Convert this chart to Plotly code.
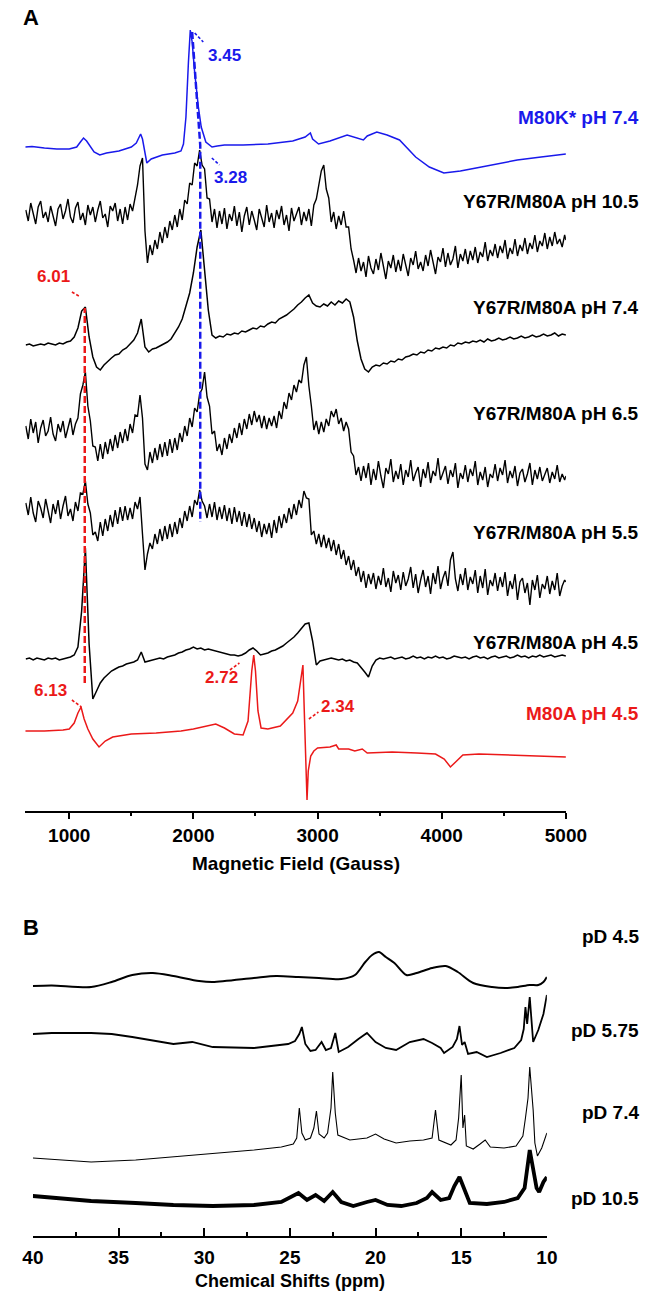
import plotly.graph_objects as go

W, H = 664, 1295
FONT = "Liberation Sans, Arial, sans-serif"
BLUE = "rgb(25,25,235)"
RED = "rgb(235,25,25)"

# ---------------- Panel A : EPR ----------------
# field sweep grids (Gauss)
FIELD_GRID = list(range(650, 5000, 30)) + [5000]        # 146 points
FIELD_FINE = list(range(650, 5000, 20)) + [5000]        # 219 points (noisy spectra)

EPR_Y67R_PH105 = [
    3, -8, 10, -2, -11, 6, 12, -5, 1, -9,
    7, -3, -13, 4, 9, -6, 2, 14, -4, -10,
    5, 11, -7, 0, -12, 8, -2, 6, -9, 3,
    12, -5, -1, -14, 7, 2, 10, -8, 4, -11,
    6, -7, 9, 2, 15, 28, 47, 55, -18, -50,
    -32, -42, -27, -36, -19, -30, -14, -25, -8, -17,
    -2, -14, 4, -7, 13, 9, 30, 28, 50, 47,
    63, 48, 44, 15, 14, -9, 4, -15, 2, -11,
    5, -16, -1, -8, 7, -13, 1, -19, -3, 6,
    -12, 2, -7, -17, 4, -4, -14, 8, -9, 0,
    -15, 3, -6, 7, -12, -2, -18, 5, -8, -1,
    6, -12, 1, -8, 4, -13, 8, 14, 30, 42,
    48, 24, 15, -9, 1, -16, -3, -12, 2, -14,
    -14, -36, -47, -60, -45, -58, -49, -64, -43, -55,
    -61, -46, -57, -40, -53, -66, -48, -55, -42, -59,
    -47, -58, -41, -54, -63, -45, -52, -38, -56, -49,
    -58, -42, -53, -37, -50, -61, -44, -49, -35, -54,
    -40, -52, -46, -33, -55, -41, -48, -36, -51, -38,
    -47, -34, -50, -39, -44, -29, -48, -37, -43, -31,
    -45, -33, -40, -27, -46, -35, -41, -26, -43, -32,
    -38, -25, -41, -30, -36, -22, -39, -28, -33, -20,
    -36, -24, -33, -19, -31, -26, -34, -22, -27,
]
EPR_Y67R_PH65 = [
    4, -9, 11, -3, 8, -13, 2, 10, -6, -1,
    13, -4, -11, 6, -2, 9, -8, 3, 12, -5,
    6, 12, 36, 45, 58, 24, 9, -16, -17, -31,
    -14, -29, -12, -24, -9, -21, -5, -18, -2, -13,
    1, -11, 6, -3, 15, 14, 35, 12, -34, -40,
    -22, -33, -18, -30, -14, -27, -12, -26, -9, -23,
    -8, -20, -3, -12, 4, -6, 12, 3, 22, 18,
    36, 41, 58, 33, 24, -4, -1, -21, -14, -25,
    -8, -19, -4, -13, 2, -8, 7, -5, 11, 1,
    16, 5, 19, 8, 15, 2, 14, 1, 12, 4,
    14, 2, 19, 11, 28, 21, 37, 30, 45, 38,
    50, 47, 65, 73, 44, 24, 0, 9, -4, 8,
    -2, 11, 4, 19, 13, 21, 6, 12, -1, 8,
    1, -22, -26, -45, -37, -51, -36, -48, -33, -55,
    -39, -50, -31, -46, -58, -38, -44, -29, -52, -41,
    -49, -34, -55, -40, -47, -30, -51, -43, -37, -57,
    -39, -48, -32, -53, -41, -46, -28, -50, -42, -36,
    -54, -40, -47, -33, -58, -43, -49, -35, -52, -39,
    -46, -31, -55, -42, -50, -37, -57, -44, -48, -34,
    -51, -38, -45, -30, -53, -41, -48, -36, -56, -43,
    -39, -52, -44, -33, -55, -40, -49, -37, -51, -45,
    -38, -53, -42, -49, -35, -52, -44, -50, -46,
]
EPR_Y67R_PH55 = [
    7, -5, 13, -3, -12, 9, 2, -8, 11, -1,
    -13, 6, -4, 10, -9, 4, 14, -6, 1, -11,
    8, -1, 17, 16, 29, 6, -3, -25, -22, -31,
    -12, -26, -9, -21, -5, -17, 0, -14, 3, -11,
    4, -10, 2, -9, 8, 1, 13, -24, -60, -44,
    -33, -39, -24, -34, -19, -31, -16, -29, -14, -27,
    -12, -24, -8, -18, -1, -11, 4, -7, 10, 5,
    20, 9, 4, -8, 6, -7, 8, -10, 3, -9,
    5, -11, 2, -14, 3, -12, -1, -16, -2, -17,
    -4, -19, -8, -22, -11, -27, -14, -24, -13, -28,
    -10, -23, -6, -18, -4, -13, 2, -9, 6, -5,
    10, 2, 19, 12, 11, -25, -21, -34, -24, -37,
    -25, -38, -28, -41, -30, -45, -34, -49, -40, -55,
    -46, -60, -50, -66, -57, -72, -61, -78, -64, -74,
    -63, -79, -66, -75, -58, -77, -68, -82, -61, -73,
    -65, -80, -62, -76, -69, -57, -78, -64, -83, -70,
    -60, -77, -66, -84, -63, -74, -56, -79, -68, -61,
    -76, -50, -42, -69, -81, -64, -75, -58, -80, -67,
    -74, -60, -83, -66, -78, -59, -85, -70, -76, -63,
    -81, -67, -77, -62, -86, -71, -79, -64, -90, -72,
    -68, -83, -73, -95, -70, -80, -65, -88, -74, -79,
    -66, -84, -71, -80, -63, -86, -76, -70, -72,
]
EPR_Y67R_PH74 = [
    0, 1, -1, 0, 1, 0, 2, 1, 0, 2,
    1, 3, 4, 8, 17, 34, 38, 8, -12, -22,
    -25, -20, -16, -13, -10, -9, -5, -3, 1, 5,
    12, 26, -2, -7, -4, -3, -1, 1, 3, 6,
    12, 18, 26, 38, 52, 72, 98, 115, 78, 35,
    10, 7, 9, 8, 11, 10, 12, 11, 14, 13,
    15, 17, 16, 19, 18, 21, 23, 22, 26, 28,
    30, 33, 36, 40, 43, 47, 50, 42, 39, 38,
    41, 39, 43, 40, 44, 42, 46, 43, 28, 4,
    -14, -24, -27, -22, -20, -21, -18, -19, -16, -17,
    -14, -15, -12, -11, -9, -10, -7, -8, -5, -6,
    -3, -4, -2, -3, 0, -1, 2, 1, 3, 2,
    4, 3, 5, 3, 6, 4, 5, 7, 5, 6,
    8, 6, 7, 9, 7, 8, 10, 8, 9, 11,
    9, 10, 12, 9, 11, 10,
]
EPR_Y67R_PH45 = [
    0, 1, -1, 1, 0, -1, 1, 0, 1, -1,
    0, 1, 2, 4, 12, 48, 111, 15, -40, -32,
    -24, -19, -15, -12, -10, -8, -7, -5, -4, -3,
    -1, 7, -3, -2, -1, 0, 1, 0, 2, 3,
    4, 6, 7, 9, 10, 12, 10, 11, 9, 10,
    9, 8, 7, 6, 5, 4, 4, 3, 4, 6,
    9, 11, 8, 4, 5, 6, 8, 9, 11, 13,
    16, 19, 22, 26, 31, 35, 36, 18, -6, -2,
    -1, 0, 1, 0, -1, 0, -2, -1, -3, -4,
    -8, -13, -18, -7, -1, 1, 0, 1, 2, 0,
    1, 2, 0, 1, 3, 1, 2, 0, 2, 1,
    3, 1, 2, 0, 1, 3, 2, 1, 2, 0,
    2, 3, 1, 2, 0, 2, 3, 1, 2, 3,
    1, 2, 4, 2, 3, 1, 3, 2, 4, 2,
    3, 4, 2, 3, 4, 3,
]

M80K_FIELD = [646, 700, 800, 900, 1000, 1060, 1090, 1115, 1140, 1170,
              1200, 1246, 1300, 1400, 1500, 1540, 1575, 1590, 1610, 1625,
              1660, 1750, 1850, 1900, 1920, 1940, 1960, 1975, 1990, 2010,
              2040, 2063, 2100, 2150, 2192, 2250, 2400, 2600, 2800, 2900,
              2942, 2960, 3008, 3100, 3238, 3300, 3369, 3400, 3477, 3560,
              3660, 3790, 3900, 4017, 4150, 4277, 4450, 4608, 4800, 5000]
M80K_SIGNAL = [0, 0.5, -1, -2, -2, 0, 5, 9, 6, 0,
               -5, -8, -6, -4, 0, 4, 13, 8, -8, -16,
               -12, -8, -6, -4, 3, 30, 85, 117, 105, 75,
               40, 20, 5, 0, 1, 2, 2, 3, 6, 10,
               14, 8, 3, 6, 12, 10, 7, 11, 15, 12,
               7, -10, -20, -26, -24, -21, -17, -13, -10, -7]

M80A_FIELD = [646, 800, 950, 1000, 1040, 1070, 1095, 1120, 1150, 1190,
              1240, 1290, 1350, 1500, 1700, 1900, 2000, 2100, 2180, 2250,
              2330, 2400, 2440, 2470, 2486, 2500, 2520, 2545, 2600, 2700,
              2800, 2840, 2870, 2882, 2893, 2905, 2915, 2925, 2945, 2970,
              3000, 3100, 3150, 3170, 3250, 3300, 3360, 3400, 3600, 3800,
              3950, 4020, 4070, 4120, 4170, 4300, 4600, 4800, 5000]
M80A_SIGNAL = [0, 0, 1, 2, 8, 18, 24, 12, 2, -8,
               -16, -10, -6, -3, -2, 0, 2, 5, 7, 3,
               -3, -4, 10, 60, 76, 60, 20, 3, 2, 5,
               18, 30, 55, 66, 20, -40, -69, -40, -25, -20,
               -17, -16, -14, -18, -18, -20, -18, -22, -21, -22,
               -23, -28, -36, -30, -24, -23, -24, -25, -26]

EPR_LABELS = ["M80K* pH 7.4", "Y67R/M80A pH 10.5", "Y67R/M80A pH 7.4",
              "Y67R/M80A pH 6.5", "Y67R/M80A pH 5.5", "Y67R/M80A pH 4.5",
              "M80A pH 4.5"]
G_LABELS = ["3.45", "3.28", "6.01", "6.13", "2.72", "2.34"]

# ---------------- Panel B : 1H NMR ----------------
NMR_PD45_PPM = [40, 38.9, 36.6, 35.4, 34.2, 33, 31.8, 30.3, 29.5, 27.1,
                25.8, 24.5, 23.3, 22.0, 21.2, 20.6, 20.2, 19.8, 19.4, 18.9,
                18.2, 17.6, 16.7, 15.9, 15.2, 14.3, 13.2, 12.4, 11.7, 11.0,
                10.5, 10.2, 10.0]
NMR_PD45_SIG = [0, 0.5, -1, 4, 11, 13, 10, 5, 4, 8,
                10, 9, 8, 7, 11, 24, 31, 34, 29, 23,
                11, 13, 18, 20, 14, 3, -1, -2, -1, 1,
                1, 4, 9]
NMR_PD575_PPM = [40, 38.9, 36.6, 35.4, 34.2, 31.8, 30.7, 29.5, 27.1, 25.1,
                 24.7, 24.45, 24.3, 24.1, 23.8, 23.5, 23.15, 22.9, 22.6, 22.35,
                 22.15, 21.6, 21.0, 20.5, 20.0, 19.4, 18.8, 18.0, 17.2, 16.7,
                 16.2, 16.0, 15.5, 15.25, 15.1, 14.95, 14.8, 14.6, 14.1, 13.5,
                 12.7, 11.9, 11.5, 11.35, 11.25, 11.15, 11.0, 10.8, 10.5, 10.2,
                 10.0]
NMR_PD575_SIG = [0, 1, 1, 0, -3, -10, -8, -13, -14, -10,
                 -7, 0, 7, -10, -17, -16, -8, -16, -14, 1,
                 -18, -13, -5, 1, -8, -14, -16, -8, -5, -9,
                 -14, -19, -13, -5, 8, -11, -8, -20, -18, -23,
                 -19, -14, -6, 5, 27, 10, 37, -8, 4, 20,
                 39]
NMR_PD74_PPM = [40, 38.5, 36.6, 34, 31.8, 29.5, 27.1, 25.5, 24.8, 24.6,
                24.45, 24.3, 24.1, 23.8, 23.6, 23.45, 23.3, 23.0, 22.8, 22.6,
                22.5, 22.35, 22.2, 21.5, 20.5, 20.0, 19.5, 18.8, 18.0, 17.2,
                16.7, 16.5, 16.3, 15.6, 15.3, 15.15, 15.0, 14.9, 14.8, 14.7,
                14.3, 13.9, 13.6, 13.3, 12.5, 11.8, 11.4, 11.25, 11.1, 11.0,
                10.9, 10.8, 10.7, 10.55, 10.3, 10.0]
NMR_PD74_SIG = [0, -2, -4, -2, 1, 4, 8, 11, 14, 20,
                50, 25, 18, 20, 30, 47, 24, 20, 25, 50,
                86, 45, 23, 18, 20, 24, 19, 15, 17, 18,
                20, 48, 18, 13, 18, 40, 83, 30, 43, 12,
                9, 14, 18, 11, 10, 12, 22, 40, 60, 91,
                70, 48, 15, 2, 10, 25]
NMR_PD105_PPM = [40, 38.5, 36.6, 34, 31.8, 29.5, 27.1, 25.5, 24.9, 24.5,
                 24.0, 23.5, 23.0, 22.5, 22.0, 21.3, 20.5, 20.0, 19.3, 18.5,
                 17.6, 17.0, 16.7, 16.2, 15.7, 15.4, 15.1, 14.8, 14.5, 13.5,
                 12.5, 11.7, 11.3, 11.0, 10.8, 10.6, 10.45, 10.2, 10.0]
NMR_PD105_SIG = [0, -2, -5, -7, -9, -10, -9, -6, 0, 3,
                 -4, 1, -5, 4, -6, -10, -6, -4, -9, -10,
                 -7, -2, 4, -4, -2, 10, 19, 5, -7, -8,
                 -6, -2, 8, 46, 26, 8, 4, 14, 19]
NMR_LABELS = ["pD 4.5", "pD 5.75", "pD 7.4", "pD 10.5"]

EPR_X_TICKS = [1000, 2000, 3000, 4000, 5000]
NMR_X_TICKS = [40, 35, 30, 25, 20, 15, 10]

for arr in (EPR_Y67R_PH105, EPR_Y67R_PH65, EPR_Y67R_PH55):
    assert len(arr) == len(FIELD_FINE), len(arr)
for arr in (EPR_Y67R_PH74, EPR_Y67R_PH45):
    assert len(arr) == len(FIELD_GRID), len(arr)


# --------------- layout helpers (pixel -> paper) ---------------
def pxx(px):
    return px / W


def pxy(py):
    return 1 - py / H


A_AXIS_PX = 811
B_TOP_PX, B_AXIS_PX = 880, 1236

fig = go.Figure()

epr_traces = [
    (M80K_FIELD, M80K_SIGNAL, 664, BLUE, 1.5),
    (FIELD_FINE, EPR_Y67R_PH105, 598, "black", 1.4),
    (FIELD_GRID, EPR_Y67R_PH74, 466, "black", 1.5),
    (FIELD_FINE, EPR_Y67R_PH65, 381, "black", 1.4),
    (FIELD_FINE, EPR_Y67R_PH55, 301, "black", 1.4),
    (FIELD_GRID, EPR_Y67R_PH45, 152, "black", 1.5),
    (M80A_FIELD, M80A_SIGNAL, 80, RED, 1.5),
]
for (xs, ys, off, col, lw), name in zip(epr_traces, EPR_LABELS):
    fig.add_trace(go.Scatter(x=xs, y=[v + off for v in ys], mode="lines",
                             line=dict(color=col, width=lw), name=name,
                             xaxis="x", yaxis="y", hoverinfo="skip"))

nmr_traces = [
    (NMR_PD45_PPM, NMR_PD45_SIG, 250, 2.0, "spline"),
    (NMR_PD575_PPM, NMR_PD575_SIG, 202, 1.8, "linear"),
    (NMR_PD74_PPM, NMR_PD74_SIG, 78, 1.1, "linear"),
    (NMR_PD105_PPM, NMR_PD105_SIG, 40, 3.8, "linear"),
]
for (xs, ys, off, lw, shape), name in zip(nmr_traces, NMR_LABELS):
    fig.add_trace(go.Scatter(x=xs, y=[v + off for v in ys], mode="lines",
                             line=dict(color="black", width=lw, shape=shape, smoothing=0.8),
                             name=name, xaxis="x2", yaxis="y2", hoverinfo="skip"))

axis_common = dict(showline=True, linewidth=2, linecolor="black", showgrid=False,
                   zeroline=False, tickwidth=2, tickcolor="black",
                   tickfont=dict(family=FONT, size=19, color="black", weight="bold"))

fig.update_layout(
    width=W, height=H, margin=dict(l=0, r=0, t=0, b=0),
    paper_bgcolor="white", plot_bgcolor="white", showlegend=False,
    xaxis=dict(domain=[pxx(15), pxx(583)], range=[646, 5000], anchor="y",
               ticks="outside", ticklen=6, tickvals=EPR_X_TICKS,
               minor=dict(tickvals=[1500, 2500, 3500, 4500], ticks="outside",
                          ticklen=3, tickwidth=2, tickcolor="black"),
               **axis_common),
    yaxis=dict(domain=[pxy(A_AXIS_PX), 1], range=[0, A_AXIS_PX], visible=False),
    xaxis2=dict(domain=[pxx(23), pxx(563)], range=[40, 10], anchor="y2",
                ticks="inside", ticklen=8, tickvals=NMR_X_TICKS,
                ticklabelstandoff=3,
                minor=dict(tickvals=[37.5, 32.5, 27.5, 22.5, 17.5, 12.5],
                           ticks="inside", ticklen=4, tickwidth=2, tickcolor="black"),
                **axis_common),
    yaxis2=dict(domain=[pxy(B_AXIS_PX), pxy(B_TOP_PX)], range=[0, B_AXIS_PX - B_TOP_PX],
                visible=False),
)

ann = []


def label(text, x, y, size=19, color="black", xanchor="center"):
    ann.append(dict(text=text, x=pxx(x), y=pxy(y), xref="paper", yref="paper",
                    showarrow=False, xanchor=xanchor, yanchor="middle",
                    font=dict(family=FONT, size=size, color=color, weight="bold")))


label("A", 21, 17, size=22)
label("B", 21, 927, size=22)

epr_label_y = [118, 201, 307, 413, 532, 643, 713]
epr_label_c = [BLUE, "black", "black", "black", "black", "black", RED]
for t, y, c in zip(EPR_LABELS, epr_label_y, epr_label_c):
    label(t, 662, y, color=c, xanchor="right")

nmr_label_y = [936, 1030, 1112, 1198]
for t, y in zip(NMR_LABELS, nmr_label_y):
    label(t, 662, y, xanchor="right")

g_pos = [(224, 55, BLUE), (231, 177, BLUE), (45, 277, RED), (41, 690, RED),
         (221, 677, RED), (344, 706, RED)]
for t, (x, y, c) in zip(G_LABELS, g_pos):
    label(t, x, y, size=17, color=c)

label("Magnetic Field (Gauss)", 299, 863, size=19)
label("Chemical Shifts (ppm)", 293, 1281, size=18)

shapes = []
leaders = [((193, 33), (202, 42), BLUE), ((211, 158), (219, 165), BLUE),
           ((64, 292), (73, 297), RED), ((64, 700), (74, 707), RED),
           ((230, 670), (240, 663), RED), ((313, 719), (323, 712), RED)]
for (x0, y0), (x1, y1), c in leaders:
    shapes.append(dict(type="line", xref="paper", yref="paper",
                       x0=pxx(x0), y0=pxy(y0), x1=pxx(x1), y1=pxy(y1),
                       line=dict(color=c, width=1.6, dash="3px,2px")))
shapes.append(dict(type="path", xref="x", yref="y",
                   path="M 1990 779 L 2055 666 L 2055 289",
                   line=dict(color=BLUE, width=2.5, dash="7px,3px")))
shapes.append(dict(type="line", xref="x", yref="y", x0=1125, x1=1125, y0=128, y1=503,
                   line=dict(color=RED, width=2.5, dash="7px,3px")))

fig.update_layout(annotations=ann, shapes=shapes)
fig.write_html("out.html")
